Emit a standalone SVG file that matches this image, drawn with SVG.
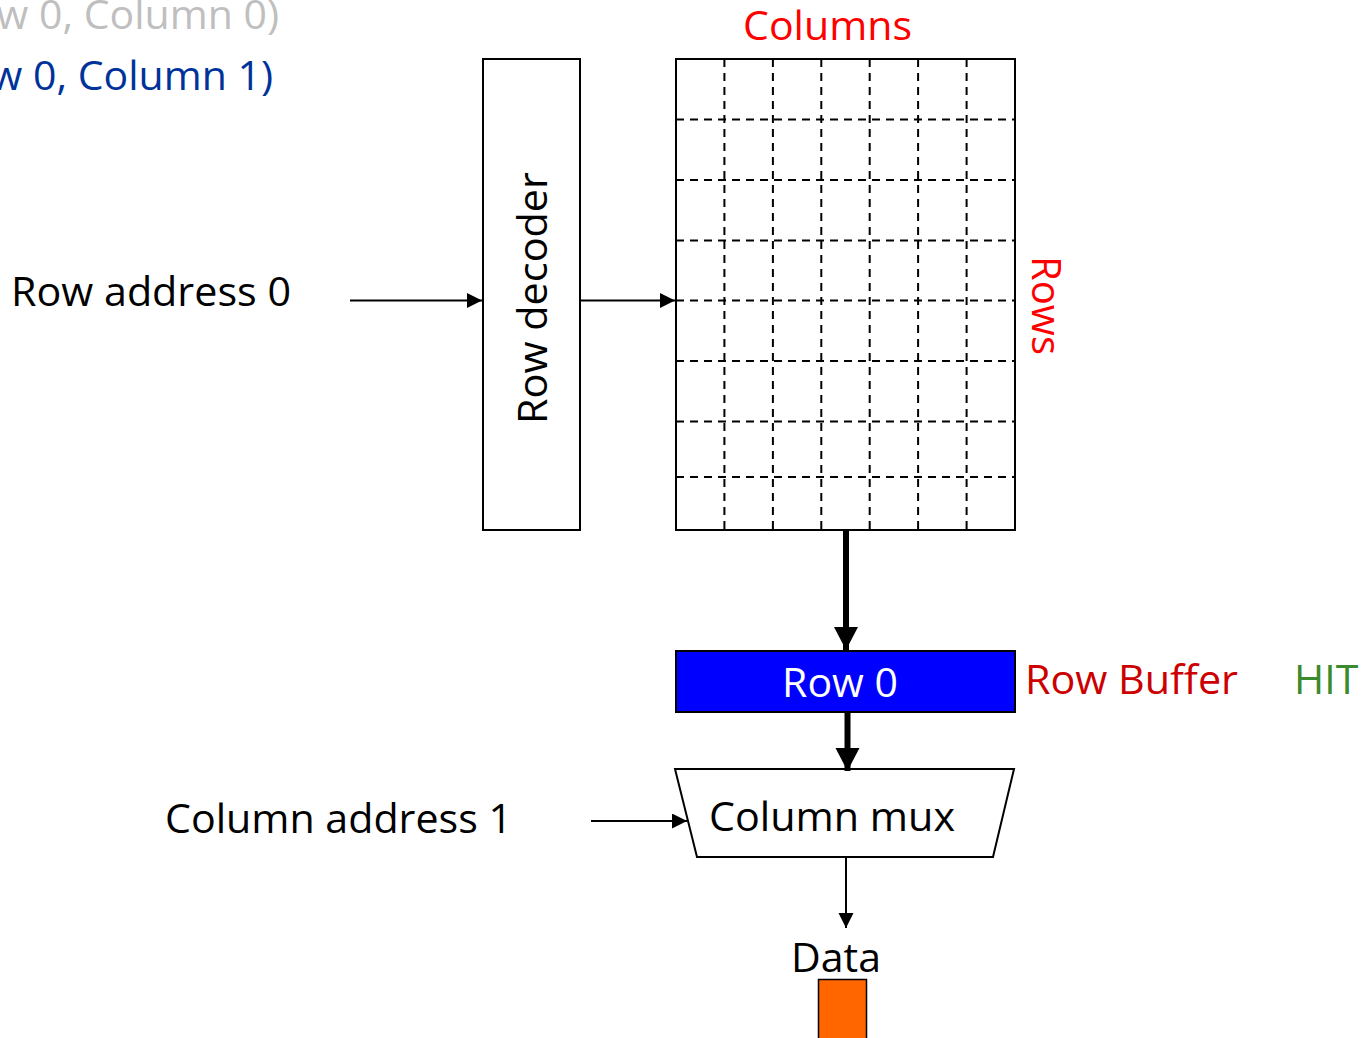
<svg xmlns="http://www.w3.org/2000/svg" width="1363" height="1038" viewBox="0 0 1363 1038">
<style>
text{font-family:"Open Sans","Noto Sans","Liberation Sans",sans-serif;font-size:41px;fill:#000}
.box{fill:#fff;stroke:#000;stroke-width:2}
.grid{stroke:#000;stroke-width:2;stroke-dasharray:8 6;fill:none}
.thin{stroke:#000;stroke-width:2;fill:none}
.thick{stroke:#000;stroke-width:6;fill:none}
</style>
<defs>
<marker id="ah" markerUnits="userSpaceOnUse" markerWidth="16" markerHeight="16" refX="15" refY="7.5" orient="auto"><path d="M0,0 L15,7.5 L0,15 Z" fill="#000"/></marker>
<marker id="ahb" markerUnits="userSpaceOnUse" markerWidth="24" markerHeight="26" refX="23" refY="12" orient="auto"><path d="M0,0 L23,12 L0,24 Z" fill="#000"/></marker>
</defs>
<text x="279" y="29" text-anchor="end" style="fill:#bfbfbf">(Row 0, Column 0)</text>
<text x="273" y="90" text-anchor="end" style="fill:#003399">(Row 0, Column 1)</text>
<g id="row-address"><text x="11" y="306" textLength="280" lengthAdjust="spacingAndGlyphs">Row address 0</text></g>
<g id="column-address"><text x="165" y="833" textLength="347" lengthAdjust="spacingAndGlyphs">Column address 1</text></g>
<g id="row-decoder">
<rect class="box" x="483" y="59" width="97" height="471" stroke-width="1.5"/>
<text transform="translate(547,298) rotate(-90)" text-anchor="middle" textLength="252" lengthAdjust="spacingAndGlyphs">Row decoder</text>
</g>
<g id="array">
<rect class="box" x="676" y="59" width="339" height="471"/>
<path class="grid" d="M724.4,59V530M772.9,59V530M821.3,59V530M869.7,59V530M918.1,59V530M966.6,59V530M676,119.5H1015M676,180H1015M676,240.5H1015M676,300.5H1015M676,361H1015M676,421.5H1015M676,477H1015"/>
<text x="743" y="40" textLength="169" lengthAdjust="spacingAndGlyphs" style="fill:#ff0000">Columns</text>
<text transform="translate(1032,256) rotate(90)" textLength="99" lengthAdjust="spacingAndGlyphs" style="fill:#ff0000">Rows</text>
</g>
<g id="row-buffer">
<rect x="676" y="651" width="339" height="61" fill="#0000ff" stroke="#000" stroke-width="2"/>
<text x="840" y="697" text-anchor="middle" style="fill:#fff">Row 0</text>
<text x="1025" y="694" textLength="213" lengthAdjust="spacingAndGlyphs" style="fill:#cc0000">Row Buffer</text>
<text x="1294" y="694" style="fill:#3a8a2e">HIT</text>
</g>
<g id="column-mux">
<path class="box" d="M675,769H1014L993,857H697Z"/>
<text x="709" y="831" textLength="246" lengthAdjust="spacingAndGlyphs">Column mux</text>
</g>
<g id="data">
<text x="791" y="972">Data</text>
<rect x="818.5" y="979.5" width="48" height="62" fill="#ff6600" stroke="#000" stroke-width="1.5"/>
</g>
<g id="connectors">
<line class="thin" x1="350" y1="300.5" x2="482" y2="300.5" marker-end="url(#ah)"/>
<line class="thin" x1="580" y1="300.5" x2="675" y2="300.5" marker-end="url(#ah)"/>
<line class="thick" x1="846" y1="530" x2="846" y2="650" marker-end="url(#ahb)"/>
<line class="thick" x1="847.5" y1="712" x2="847.5" y2="771" marker-end="url(#ahb)"/>
<line class="thin" x1="591" y1="821" x2="687" y2="821" marker-end="url(#ah)"/>
<line class="thin" x1="846" y1="857" x2="846" y2="928" marker-end="url(#ah)"/>
</g>
</svg>
